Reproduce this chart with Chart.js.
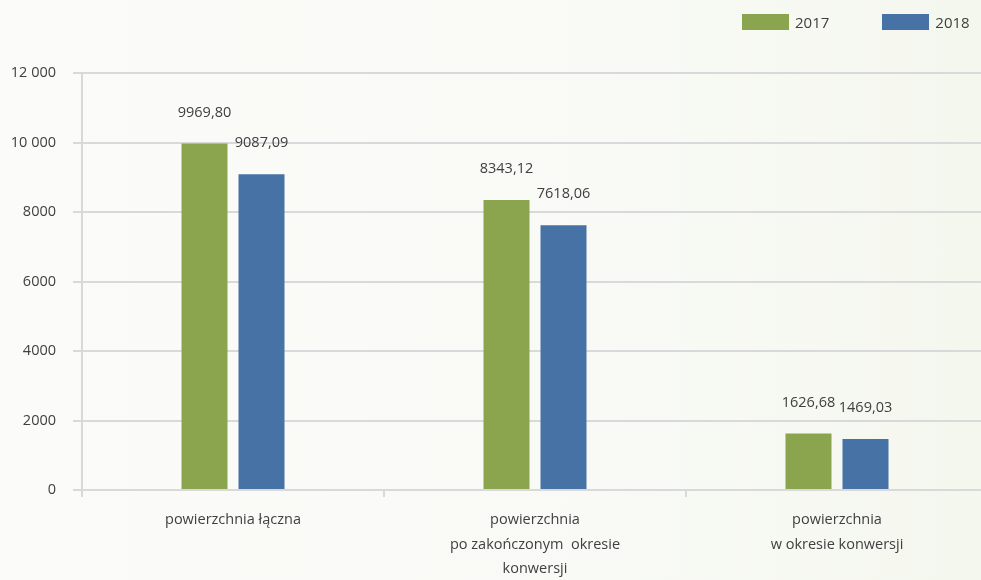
<!DOCTYPE html>
<html>
<head>
<meta charset="utf-8">
<script src="https://cdn.jsdelivr.net/npm/chart.js@4/dist/chart.umd.min.js"></script>
<style>
html, body { margin: 0; padding: 0; overflow: hidden; }
body { width: 981px; height: 580px; background: linear-gradient(to right, #fbfbf9 0%, #f9faf6 60%, #f4f7ee 100%); font-family: "Open Sans", sans-serif; }
#wrap { position: relative; width: 981px; height: 580px; overflow: hidden; }
#legend { position: absolute; top: 12px; left: 742px; display: flex; font-size: 15px; color: #404040; }
#legend .item { display: flex; align-items: center; }
#legend .box { width: 47px; height: 16px; margin-right: 6px; }
</style>
</head>
<body>
<div id="wrap">
  <canvas id="c" width="990" height="580"></canvas>
  <div id="legend"></div>
</div>
<script>
// dane z wykresu
var kategorie = [
    ['powierzchnia łączna'],
    ['powierzchnia', 'po zakończonym  okresie', 'konwersji'],
    ['powierzchnia', 'w okresie konwersji']
];
var lata = ['2017', '2018'];
var wartosci2017 = [9969.80, 8343.12, 1626.68];
var wartosci2018 = [9087.09, 7618.06, 1469.03];
var kolory = ['#8aa54e', '#4672a6'];

var tekst = '#404040';
var siatka = '#d9d9db';

function fmtPL(v) {
    return v.toFixed(2).replace('.', ',');
}

var etykiety = {
    id: 'etykiety',
    afterDatasetsDraw: function(chart) {
        var ctx = chart.ctx;
        ctx.save();
        ctx.font = '14.5px "Open Sans", sans-serif';
        ctx.fillStyle = tekst;
        ctx.textAlign = 'center';
        ctx.textBaseline = 'middle';
        chart.data.datasets.forEach(function(ds, i) {
            chart.getDatasetMeta(i).data.forEach(function(bar, j) {
                ctx.fillText(fmtPL(ds.data[j]), bar.x, bar.y - 31);
            });
        });
        ctx.restore();
    }
};

var c = new Chart(document.getElementById('c'), {
    type: 'bar',
    data: {
        labels: kategorie,
        datasets: [
            { label: lata[0], data: wartosci2017, backgroundColor: kolory[0] },
            { label: lata[1], data: wartosci2018, backgroundColor: kolory[1] }
        ]
    },
    options: {
        responsive: false,
        animation: false,
        categoryPercentage: 0.3775,
        barPercentage: 0.807,
        layout: { padding: { top: 73, right: 2, left: 0, bottom: 0 } },
        plugins: {
            legend: { display: false },
            tooltip: { enabled: false }
        },
        scales: {
            x: {
                afterFit: function(s) { s.height = 90; },
                grid: { offset: true, drawOnChartArea: false, drawTicks: true, tickLength: 7, color: siatka, lineWidth: 2 },
                border: { display: false },
                ticks: { color: tekst, padding: 10, font: { family: '"Open Sans", sans-serif', size: 14.5, lineHeight: 1.72 }, maxRotation: 0, autoSkip: false }
            },
            y: {
                min: 0,
                max: 12000,
                afterFit: function(s) { s.width = 82; },
                grid: { color: siatka, lineWidth: 2, tickLength: 9 },
                border: { color: siatka, width: 2 },
                ticks: {
                    stepSize: 2000,
                    padding: 17,
                    color: tekst,
                    font: { family: '"Open Sans", sans-serif', size: 14.5 },
                    callback: function(v) {
                        return v >= 10000 ? String(v).replace(/(\d)(\d{3})$/, '$1 $2') : String(v);
                    }
                }
            }
        }
    },
    plugins: [etykiety]
});

// legenda HTML z danych wykresu
var leg = document.getElementById('legend');
c.data.datasets.forEach(function(ds, i) {
    var it = document.createElement('div');
    it.className = 'item';
    it.style.marginRight = i === 0 ? '53px' : '0';
    it.innerHTML = '<div class="box" style="background:' + ds.backgroundColor + '"></div><span>' + ds.label + '</span>';
    leg.appendChild(it);
});
</script>
</body>
</html>
